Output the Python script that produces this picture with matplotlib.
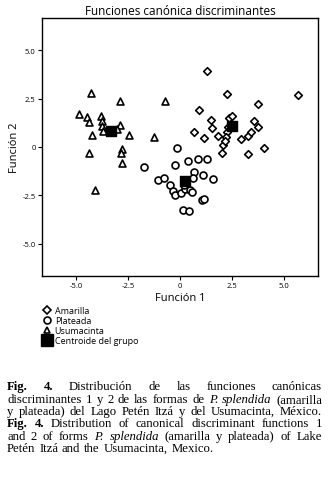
import numpy as np
import matplotlib.pyplot as plt
from matplotlib.lines import Line2D

# discriminant scores
amarilla_x = [1.28, 2.24, 5.66, 3.73, 0.93, 1.47, 1.55, 0.69, 1.15, 1.84, 2.08, 2.00,
              2.37, 2.51, 2.24, 2.20, 2.92, 3.28, 3.40, 3.56, 3.77, 3.28, 4.04, 2.16, 2.30]
amarilla_y = [3.90, 2.71, 2.66, 2.22, 1.89, 1.38, 0.98, 0.76, 0.46, 0.55, 0.12, -0.33,
              1.48, 1.58, 0.76, 0.50, 0.41, 0.58, 0.79, 1.32, 1.01, -0.38, -0.07, 0.32, 1.02]

plateada_x = [-0.16, -1.73, -0.24, 0.40, 0.88, 1.28, -1.07, -0.77, -0.48, -0.35, -0.24, 0.03,
              0.24, 0.48, 0.59, 0.69, 0.64, 1.12, 1.60, 1.04, 1.15, 0.13, 0.45, 0.21]
plateada_y = [-0.05, -1.01, -0.95, -0.70, -0.60, -0.60, -1.68, -1.58, -1.94, -2.25, -2.47, -2.35,
              -2.16, -2.22, -2.34, -1.30, -1.61, -1.43, -1.65, -2.72, -2.68, -3.26, -3.30, -1.96]

usuma_x = [-4.29, -4.86, -4.45, -4.36, -3.78, -3.73, -3.73, -3.72, -4.25, -2.88, -2.88, -3.01,
           -2.47, -1.24, -0.74, -4.36, -2.80, -2.85, -2.80, -4.09]
usuma_y = [2.78, 1.70, 1.55, 1.30, 1.58, 1.32, 1.07, 0.81, 0.64, 2.35, 1.13, 0.93,
           0.62, 0.53, 2.39, -0.29, -0.10, -0.31, -0.82, -2.20]

centroid_x = [2.52, 0.26, -3.32]
centroid_y = [1.08, -1.77, 0.82]

ticks = [-5.0, -2.5, 0.0, 2.5, 5.0]
tick_labels = ["-5.0", "-2.5", "0", "2.5", "5.0"]
legend_labels = ["Amarilla", "Plateada", "Usumacinta", "Centroide del grupo"]

plt.rcParams['font.family'] = ['Open Sans', 'DejaVu Sans']

W, H = 330, 481
fig = plt.figure(figsize=(W / 100, H / 100), dpi=100)
ax = fig.add_axes([42 / W, 1 - 277 / H, 276 / W, 258 / H])

mk = dict(facecolor="white", edgecolor="black", linewidths=1.2, zorder=3)
ax.scatter(amarilla_x, amarilla_y, marker="D", s=15, **mk)
ax.scatter(plateada_x, plateada_y, marker="o", s=25, **mk)
ax.scatter(usuma_x, usuma_y, marker="^", s=25, **mk)
ax.scatter(centroid_x, centroid_y, marker="s", s=55, color="black", zorder=4)

ax.set_xlim(-6.63, 6.63)
ax.set_ylim(-6.65, 6.65)
ax.set_xticks(ticks, tick_labels)
ax.set_yticks(ticks, tick_labels)
ax.tick_params(direction="out", length=3, width=0.8, labelsize=5.5, pad=1.5)
for s in ax.spines.values():
    s.set_linewidth(1.0)

ax.set_title("Funciones canónica discriminantes", fontsize=8.5, pad=3)
ax.set_xlabel("Función 1", fontsize=8, labelpad=2)
ax.set_ylabel("Función 2", fontsize=8, labelpad=2)

hkw = dict(linestyle="none", markerfacecolor="white", markeredgecolor="black", markeredgewidth=1.2)
handles = [Line2D([], [], marker="D", markersize=4.2, **hkw),
           Line2D([], [], marker="o", markersize=5, **hkw),
           Line2D([], [], marker="^", markersize=5, **hkw),
           Line2D([], [], marker="s", markersize=8.5, linestyle="none", color="black")]
fig.legend(handles, legend_labels, loc="upper left", bbox_to_anchor=(43 / W, 1 - 307 / H),
           frameon=False, fontsize=6.5, handlelength=0.9, handletextpad=0.4,
           labelspacing=0.1, borderpad=0, borderaxespad=0)

# caption, justified by hand word by word
cap_lines = [
    [("Fig.", "bold"), ("4.", "bold"), ("Distribución", ""), ("de", ""), ("las", ""),
     ("funciones", ""), ("canónicas", "")],
    [("discriminantes", ""), ("1", ""), ("y", ""), ("2", ""), ("de", ""), ("las", ""),
     ("formas", ""), ("de", ""), ("P.", "italic"), ("splendida", "italic"), ("(amarilla", "")],
    [("y", ""), ("plateada)", ""), ("del", ""), ("Lago", ""), ("Petén", ""), ("Itzá", ""),
     ("y", ""), ("del", ""), ("Usumacinta,", ""), ("México.", "")],
    [("Fig.", "bold"), ("4.", "bold"), ("Distribution", ""), ("of", ""), ("canonical", ""),
     ("discriminant", ""), ("functions", ""), ("1", "")],
    [("and", ""), ("2", ""), ("of", ""), ("forms", ""), ("P.", "italic"), ("splendida", "italic"),
     ("(amarilla", ""), ("y", ""), ("plateada)", ""), ("of", ""), ("Lake", "")],
    [("Petén", ""), ("Itzá", ""), ("and", ""), ("the", ""), ("Usumacinta,", ""), ("Mexico.", "")],
]
justify = [True, True, True, True, True, False]
x0, x1 = 7, 322
base0, step = 390.5, 12.3

renderer = fig.canvas.get_renderer()
for i, words in enumerate(cap_lines):
    y = 1 - (base0 + i * step) / H
    items = []
    for w, st in words:
        t = fig.text(0, y, w, fontsize=9.2, family="Liberation Serif", va="baseline",
                     fontweight="bold" if st == "bold" else "normal",
                     fontstyle="italic" if st == "italic" else "normal")
        items.append(t)
    widths = [t.get_window_extent(renderer).width for t in items]
    if justify[i]:
        gap = (x1 - x0 - sum(widths)) / (len(items) - 1)
    else:
        gap = 3.8
    x = x0
    for t, wd in zip(items, widths):
        t.set_x(x / W)
        x += wd + gap

fig.savefig("out.png", dpi=100)
